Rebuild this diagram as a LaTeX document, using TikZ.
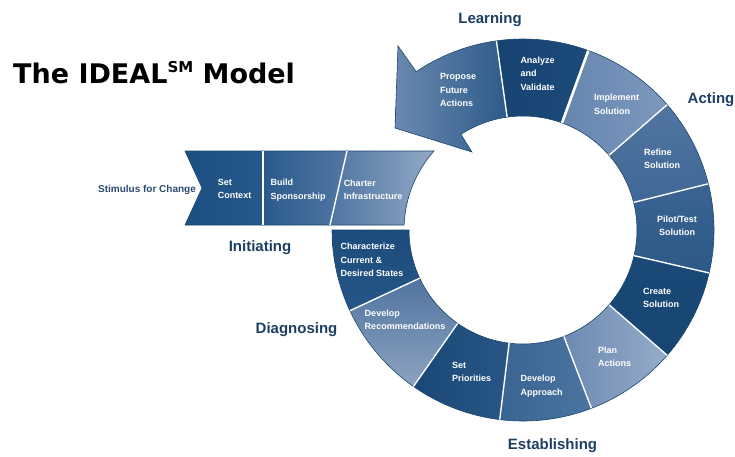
\documentclass[tikz,border=0pt]{standalone}
\usepackage{fontspec}
\setmainfont{Liberation Sans}
\newfontfamily\titlefont{DejaVu Sans}
\usetikzlibrary{calc}

\definecolor{edgeblue}{HTML}{1A466F}
\definecolor{labelblue}{HTML}{1E3F63}
\definecolor{stimblue}{HTML}{2B4B70}

\newcommand{\ringseg}[4]{%
  \shade[seg,#3,#4] (#1:\rin) arc[start angle=#1, end angle=#2, radius=\rin]
    -- (#2:\rout) arc[start angle=#2, end angle=#1, radius=\rout] -- cycle;}

\begin{document}
\begin{tikzpicture}[x=1pt,y=-1pt,
  seg/.style={draw=edgeblue, line width=0.6pt},
  divider/.style={draw=white, line width=1.4pt},
  steptext/.style={text=white, font=\bfseries\fontsize{9}{13.5}\selectfont, align=left, inner sep=0pt},
  phase/.style={text=labelblue, font=\bfseries\fontsize{15}{18}\selectfont, inner sep=0pt, anchor=base}]

\useasboundingbox (0,0) rectangle (735,456);
\coordinate (O) at (523,230);
\def\rin{114}
\def\rout{191}

\shade[seg, left color={rgb,255:red,28;green,78;blue,129}, right color={rgb,255:red,38;green,88;blue,138}]
  (185,151) -- (263,151) -- (263,225) -- (185,225) -- (202,188) -- cycle;
\shade[seg, left color={rgb,255:red,42;green,90;blue,140}, right color={rgb,255:red,82;green,119;blue,163}]
  (263,151) -- (347,151) -- (330,225) -- (263,225) -- cycle;
\shade[seg, left color={rgb,255:red,78;green,117;blue,161}, right color={rgb,255:red,146;green,169;blue,198}]
  (347,151) -- (434,151) arc[start angle=-138.4, end angle=-177.6, radius=119] -- (330,225) -- cycle;
\draw[divider] (263,151) -- (263,225);
\draw[divider] (347,151) -- (330,225);

\begin{scope}[shift={(O)}]
\ringseg{180}{155}{top color={rgb,255:red,27;green,76;blue,123}}{bottom color={rgb,255:red,37;green,86;blue,135}}
\ringseg{155}{125}{top color={rgb,255:red,80;green,116;blue,159}}{bottom color={rgb,255:red,141;green,163;blue,193}}
\ringseg{125}{97}{left color={rgb,255:red,25;green,72;blue,118}}{right color={rgb,255:red,40;green,87;blue,134}}
\ringseg{97}{69}{left color={rgb,255:red,57;green,101;blue,146}}{right color={rgb,255:red,75;green,116;blue,160}}
\ringseg{69}{41}{left color={rgb,255:red,108;green,138;blue,178}}{right color={rgb,255:red,150;green,172;blue,201}}
\ringseg{41}{13}{top color={rgb,255:red,26;green,73;blue,119}}{bottom color={rgb,255:red,24;green,70;blue,115}}
\ringseg{13}{-14}{top color={rgb,255:red,58;green,100;blue,145}}{bottom color={rgb,255:red,44;green,89;blue,135}}
\ringseg{-14}{-41}{top color={rgb,255:red,80;green,117;blue,160}}{bottom color={rgb,255:red,64;green,104;blue,150}}
\ringseg{-41}{-70}{left color={rgb,255:red,102;green,134;blue,175}}{right color={rgb,255:red,125;green,152;blue,189}}
\ringseg{-70}{-98}{left color={rgb,255:red,22;green,67;blue,113}}{right color={rgb,255:red,29;green,75;blue,121}}

\coordinate (barblow) at (-51,-78);
\coordinate (tip) at (-128,-102);
\coordinate (barbup) at (-125,-184);
\shade[seg, left color={rgb,255:red,106;green,137;blue,175}, right color={rgb,255:red,45;green,91;blue,137}]
  (-98:\rin) arc[start angle=-98, end angle=-123, radius=\rin] -- (barblow) -- (tip) -- (barbup)
  -- (-124:\rout) arc[start angle=-124, end angle=-98, radius=\rout] -- cycle;

\foreach \a in {155,125,97,69,41,13,-14,-41,-98}
  \draw[divider] (\a:\rin) -- (\a:\rout);
\draw[draw=white, line width=2.6pt] (-70:\rin) -- (-70:\rout);
\end{scope}

\node[anchor=base west, inner sep=0pt, font=\titlefont\bfseries\fontsize{27}{30}\selectfont] (title)
  at (13,83) {The IDEAL\raisebox{10.5pt}{\fontsize{15}{15}\selectfont SM} Model};

\node[font=\bfseries\fontsize{10}{12}\selectfont, text=stimblue, inner sep=0pt] (stimulus) at (147,190) {Stimulus for Change};
\node[steptext] (setctx) at (234.5,189) {Set\\Context};
\node[steptext] (build) at (298,190) {Build\\Sponsorship};
\node[steptext] (charter) at (373,190) {Charter\\Infrastructure};
\node[steptext] (charact) at (372,260) {Characterize\\Current \&\\Desired States};
\node[steptext] (devrec) at (405,320) {Develop\\Recommendations};
\node[steptext] (setpri) at (471.5,372) {Set\\Priorities};
\node[steptext] (devapp) at (541.5,386) {Develop\\Approach};
\node[steptext] (plan) at (614.5,357) {Plan\\Actions};
\node[steptext] (create) at (661,298) {Create\\Solution};
\node[steptext, align=center] (pilot) at (677,226) {Pilot/Test\\Solution};
\node[steptext] (refine) at (662,159) {Refine\\Solution};
\node[steptext] (implement) at (616.5,104.5) {Implement\\Solution};
\node[steptext] (analyze) at (537.5,73.5) {Analyze\\and\\Validate};
\node[steptext] (propose) at (458,90) {Propose\\Future\\Actions};

\node[phase] (learning) at (490,23) {Learning};
\node[phase] (acting) at (711,103) {Acting};
\node[phase] (initiating) at (260,251) {Initiating};
\node[phase] (diagnosing) at (296.5,333) {Diagnosing};
\node[phase] (establishing) at (552.5,449) {Establishing};
\end{tikzpicture}
\end{document}
